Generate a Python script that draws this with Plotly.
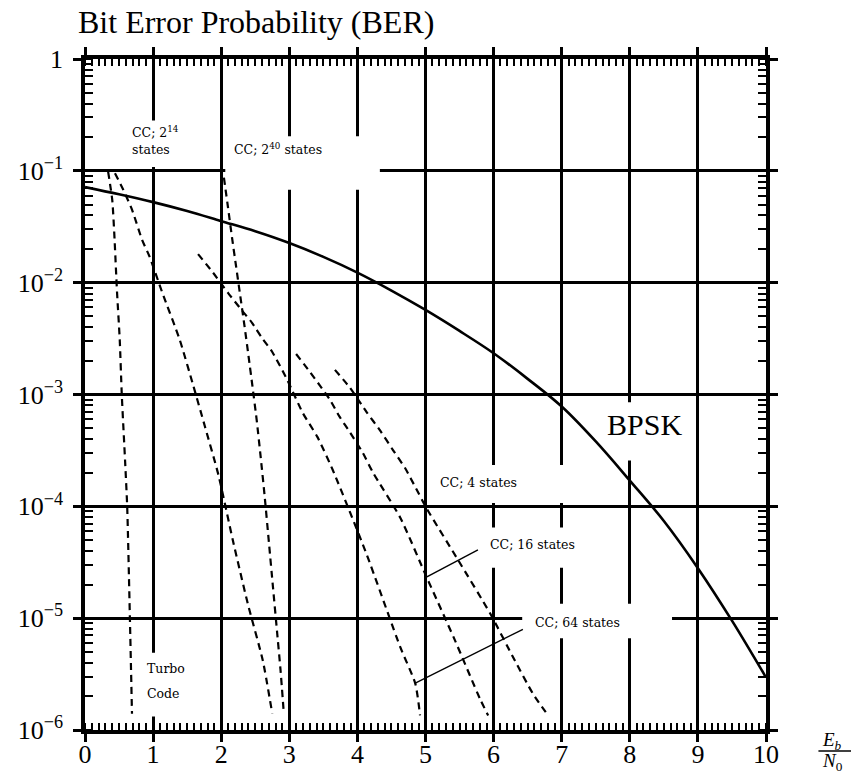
import plotly.graph_objects as go

# ---------------- data ----------------
bpsk_x = [0, 0.5, 1, 1.5, 2, 2.5, 3, 3.5, 4, 4.5, 5, 5.5, 6, 6.5, 7, 7.5, 8, 8.5, 9, 9.5, 10]
bpsk_ber = [0.0716, 0.0617, 0.0525, 0.0437, 0.0355, 0.0288, 0.0226, 0.0170, 0.0123, 0.0085,
            0.0057, 0.0037, 0.00234, 0.00138, 7.8e-4, 3.8e-4, 1.7e-4, 7.4e-5, 2.8e-5, 9.5e-6, 2.95e-6]

turbo_x = [0.34, 0.40, 0.43, 0.47, 0.51, 0.54, 0.59, 0.62, 0.66, 0.69]
turbo_ber = [9.8e-2, 5.5e-2, 2.75e-2, 8.3e-3, 3.1e-3, 1.0e-3, 2.45e-4, 9.8e-5, 9.5e-6, 1.4e-6]

cc214_x = [0.44, 0.56, 0.69, 0.84, 0.95, 1.13, 1.39, 1.59, 1.76, 1.96, 2.17, 2.39, 2.61, 2.75]
cc214_ber = [9.5e-2, 6.8e-2, 4.5e-2, 2.4e-2, 1.7e-2, 8.3e-3, 3.1e-3, 1.2e-3, 5.2e-4, 1.9e-4,
             5.0e-5, 1.35e-5, 4.2e-6, 1.4e-6]

cc240_x = [2.04, 2.10, 2.16, 2.22, 2.28, 2.34, 2.40, 2.46, 2.52, 2.58, 2.64, 2.70, 2.76, 2.82, 2.87, 2.92]
cc240_ber = [8.7e-2, 4.7e-2, 2.5e-2, 1.38e-2, 7.6e-3, 4.2e-3, 2.24e-3, 1.17e-3, 6.0e-4, 2.75e-4,
             1.2e-4, 4.8e-5, 1.9e-5, 7.6e-6, 3.5e-6, 1.4e-6]

cc64_x = [1.66, 1.88, 2.10, 2.31, 2.45, 2.60, 2.75, 2.97, 3.20, 3.41, 3.64, 4.13, 4.63, 4.85, 4.92]
cc64_ber = [1.8e-2, 1.23e-2, 8.1e-3, 5.6e-3, 4.4e-3, 3.2e-3, 2.4e-3, 1.35e-3, 6.8e-4, 4.2e-4,
            2.1e-4, 3.8e-5, 5.5e-6, 2.6e-6, 1.35e-6]

cc16_x = [3.10, 3.30, 3.45, 3.60, 3.74, 3.89, 4.08, 4.23, 4.63, 5.02, 5.42, 5.80, 5.92]
cc16_ber = [2.3e-3, 1.6e-3, 1.2e-3, 8.9e-4, 6.3e-4, 4.6e-4, 3.0e-4, 2.0e-4, 7.9e-5, 2.3e-5,
            6.6e-6, 1.9e-6, 1.35e-6]

cc4_x = [3.67, 3.89, 4.14, 4.33, 4.52, 4.70, 4.86, 5.02, 5.48, 5.95, 6.31, 6.58, 6.80]
cc4_ber = [1.66e-3, 1.15e-3, 6.9e-4, 4.8e-4, 3.2e-4, 2.2e-4, 1.45e-4, 9.5e-5, 3.3e-5, 1.1e-5,
           4.2e-6, 2.1e-6, 1.35e-6]

x_ticks = [0, 1, 2, 3, 4, 5, 6, 7, 8, 9, 10]
x_ticklabels = ["0", "1", "2", "3", "4", "5", "6", "7", "8", "9", "10"]
y_ticks = [1e-6, 1e-5, 1e-4, 1e-3, 1e-2, 1e-1, 1]
y_ticklabels = ["10<sup>−6</sup>", "10<sup>−5</sup>", "10<sup>−4</sup>", "10<sup>−3</sup>",
                "10<sup>−2</sup>", "10<sup>−1</sup>", "1"]

# ---------------- figure ----------------
SERIF = "Liberation Serif"
SMALL = "DejaVu Serif"
fig = go.Figure()

dashed = [(turbo_x, turbo_ber), (cc214_x, cc214_ber), (cc240_x, cc240_ber),
          (cc64_x, cc64_ber), (cc16_x, cc16_ber), (cc4_x, cc4_ber)]
for xs, ys in dashed:
    fig.add_trace(go.Scatter(x=xs, y=ys, mode="lines",
                             line=dict(color="black", width=2.2, dash="7px,5px", shape="spline", smoothing=0.6),
                             showlegend=False, hoverinfo="skip"))

fig.add_trace(go.Scatter(x=bpsk_x, y=bpsk_ber, mode="lines",
                         line=dict(color="black", width=2.6, shape="spline"),
                         showlegend=False, hoverinfo="skip"))

# white label boxes interrupting the grid (x data, y data values)
boxes = [
    (0.59, 1.47, 10**-0.55, 10**-0.966),   # CC 2^14
    (2.06, 4.33, 10**-0.69, 10**-1.17),    # CC 2^40
    (7.42, 8.88, 10**-3.07, 10**-3.59),    # BPSK
    (5.07, 7.20, 10**-3.63, 10**-3.97),    # CC 4
    (5.83, 7.27, 10**-4.19, 10**-4.55),    # CC 16
    (6.42, 8.62, 10**-4.87, 10**-5.18),    # CC 64
    (0.81, 1.54, 10**-5.31, 10**-5.88),    # Turbo
]
for x0, x1, y0, y1 in boxes:
    fig.add_shape(type="rect", xref="x", yref="y", x0=x0, x1=x1, y0=y0, y1=y1,
                  fillcolor="white", line=dict(width=0), layer="between")

# leader lines
leaders = [((5.77, 10**-4.39), (5.02, 10**-4.63)),
           ((6.43, 10**-5.10), (4.85, 10**-5.58))]
for (xa, ya), (xb, yb) in leaders:
    fig.add_shape(type="line", xref="x", yref="y", x0=xa, y0=ya, x1=xb, y1=yb,
                  line=dict(color="black", width=1.4), layer="above")

small = dict(family=SMALL, size=12.5, color="black")
labels = [
    ("CC; 2<sup>14</sup><br>states", 0.66, -0.73),
    ("CC; 2<sup>40</sup> states", 2.16, -0.805),
    ("CC; 4 states", 5.18, -3.79),
    ("CC; 16 states", 5.92, -4.34),
    ("CC; 64 states", 6.58, -5.04),
    ("Turbo", 0.88, -5.45),
    ("Code", 0.88, -5.67),
]
for txt, x, y in labels:
    fig.add_annotation(text=txt, x=x, y=y, xref="x", yref="y", showarrow=False,
                       xanchor="left", yanchor="middle", align="left", font=small)

fig.add_annotation(text="BPSK", x=8.21, y=-3.27, xref="x", yref="y", showarrow=False,
                   xanchor="center", yanchor="middle", font=dict(family=SERIF, size=30, color="black"))

fig.add_annotation(text="Bit Error Probability (BER)", x=-0.013, y=1.055, xref="paper", yref="paper",
                   showarrow=False, xanchor="left", yanchor="middle",
                   font=dict(family=SERIF, size=32, color="black"))

# E_b / N_0 fraction label
fig.add_annotation(text="<i>E</i><sub><i>b</i></sub>", x=1.097, y=-0.0164, xref="paper", yref="paper",
                   showarrow=False, xanchor="center", yanchor="middle",
                   font=dict(family=SERIF, size=19, color="black"))
fig.add_annotation(text="<i>N</i><sub>0</sub>", x=1.097, y=-0.0477, xref="paper", yref="paper",
                   showarrow=False, xanchor="center", yanchor="middle",
                   font=dict(family=SERIF, size=19, color="black"))
fig.add_shape(type="line", xref="paper", yref="paper", x0=1.077, x1=1.125, y0=-0.0313, y1=-0.0313,
              line=dict(color="black", width=1.3))

axis_common = dict(showgrid=True, gridcolor="black", gridwidth=2.5,
                   showline=True, linecolor="black", linewidth=3.5, mirror="allticks",
                   ticks="outside", ticklen=8, tickwidth=2.5, tickcolor="black",
                   tickfont=dict(family=SERIF, size=26, color="black"),
                   zeroline=False, automargin=False)

fig.update_layout(
    width=851, height=776,
    margin=dict(l=85, r=85, t=59, b=46),
    plot_bgcolor="white", paper_bgcolor="white",
    xaxis=dict(range=[0, 10], tickmode="array", tickvals=x_ticks, ticktext=x_ticklabels,
               minor=dict(dtick=0.1, tick0=0, ticks="inside", ticklen=7, tickwidth=2,
                          tickcolor="black", showgrid=False),
               ticklabelstandoff=-10,
               **axis_common),
    yaxis=dict(type="log", range=[-6, 0], tickmode="array", tickvals=y_ticks, ticktext=y_ticklabels,
               minor=dict(dtick="D1", ticks="inside", ticklen=8, tickwidth=2,
                          tickcolor="black", showgrid=False),
               ticklabelstandoff=5,
               **axis_common),
)

fig.write_html("out.html", config={"displayModeBar": False},
               post_script="document.body.style.margin='0px';")
